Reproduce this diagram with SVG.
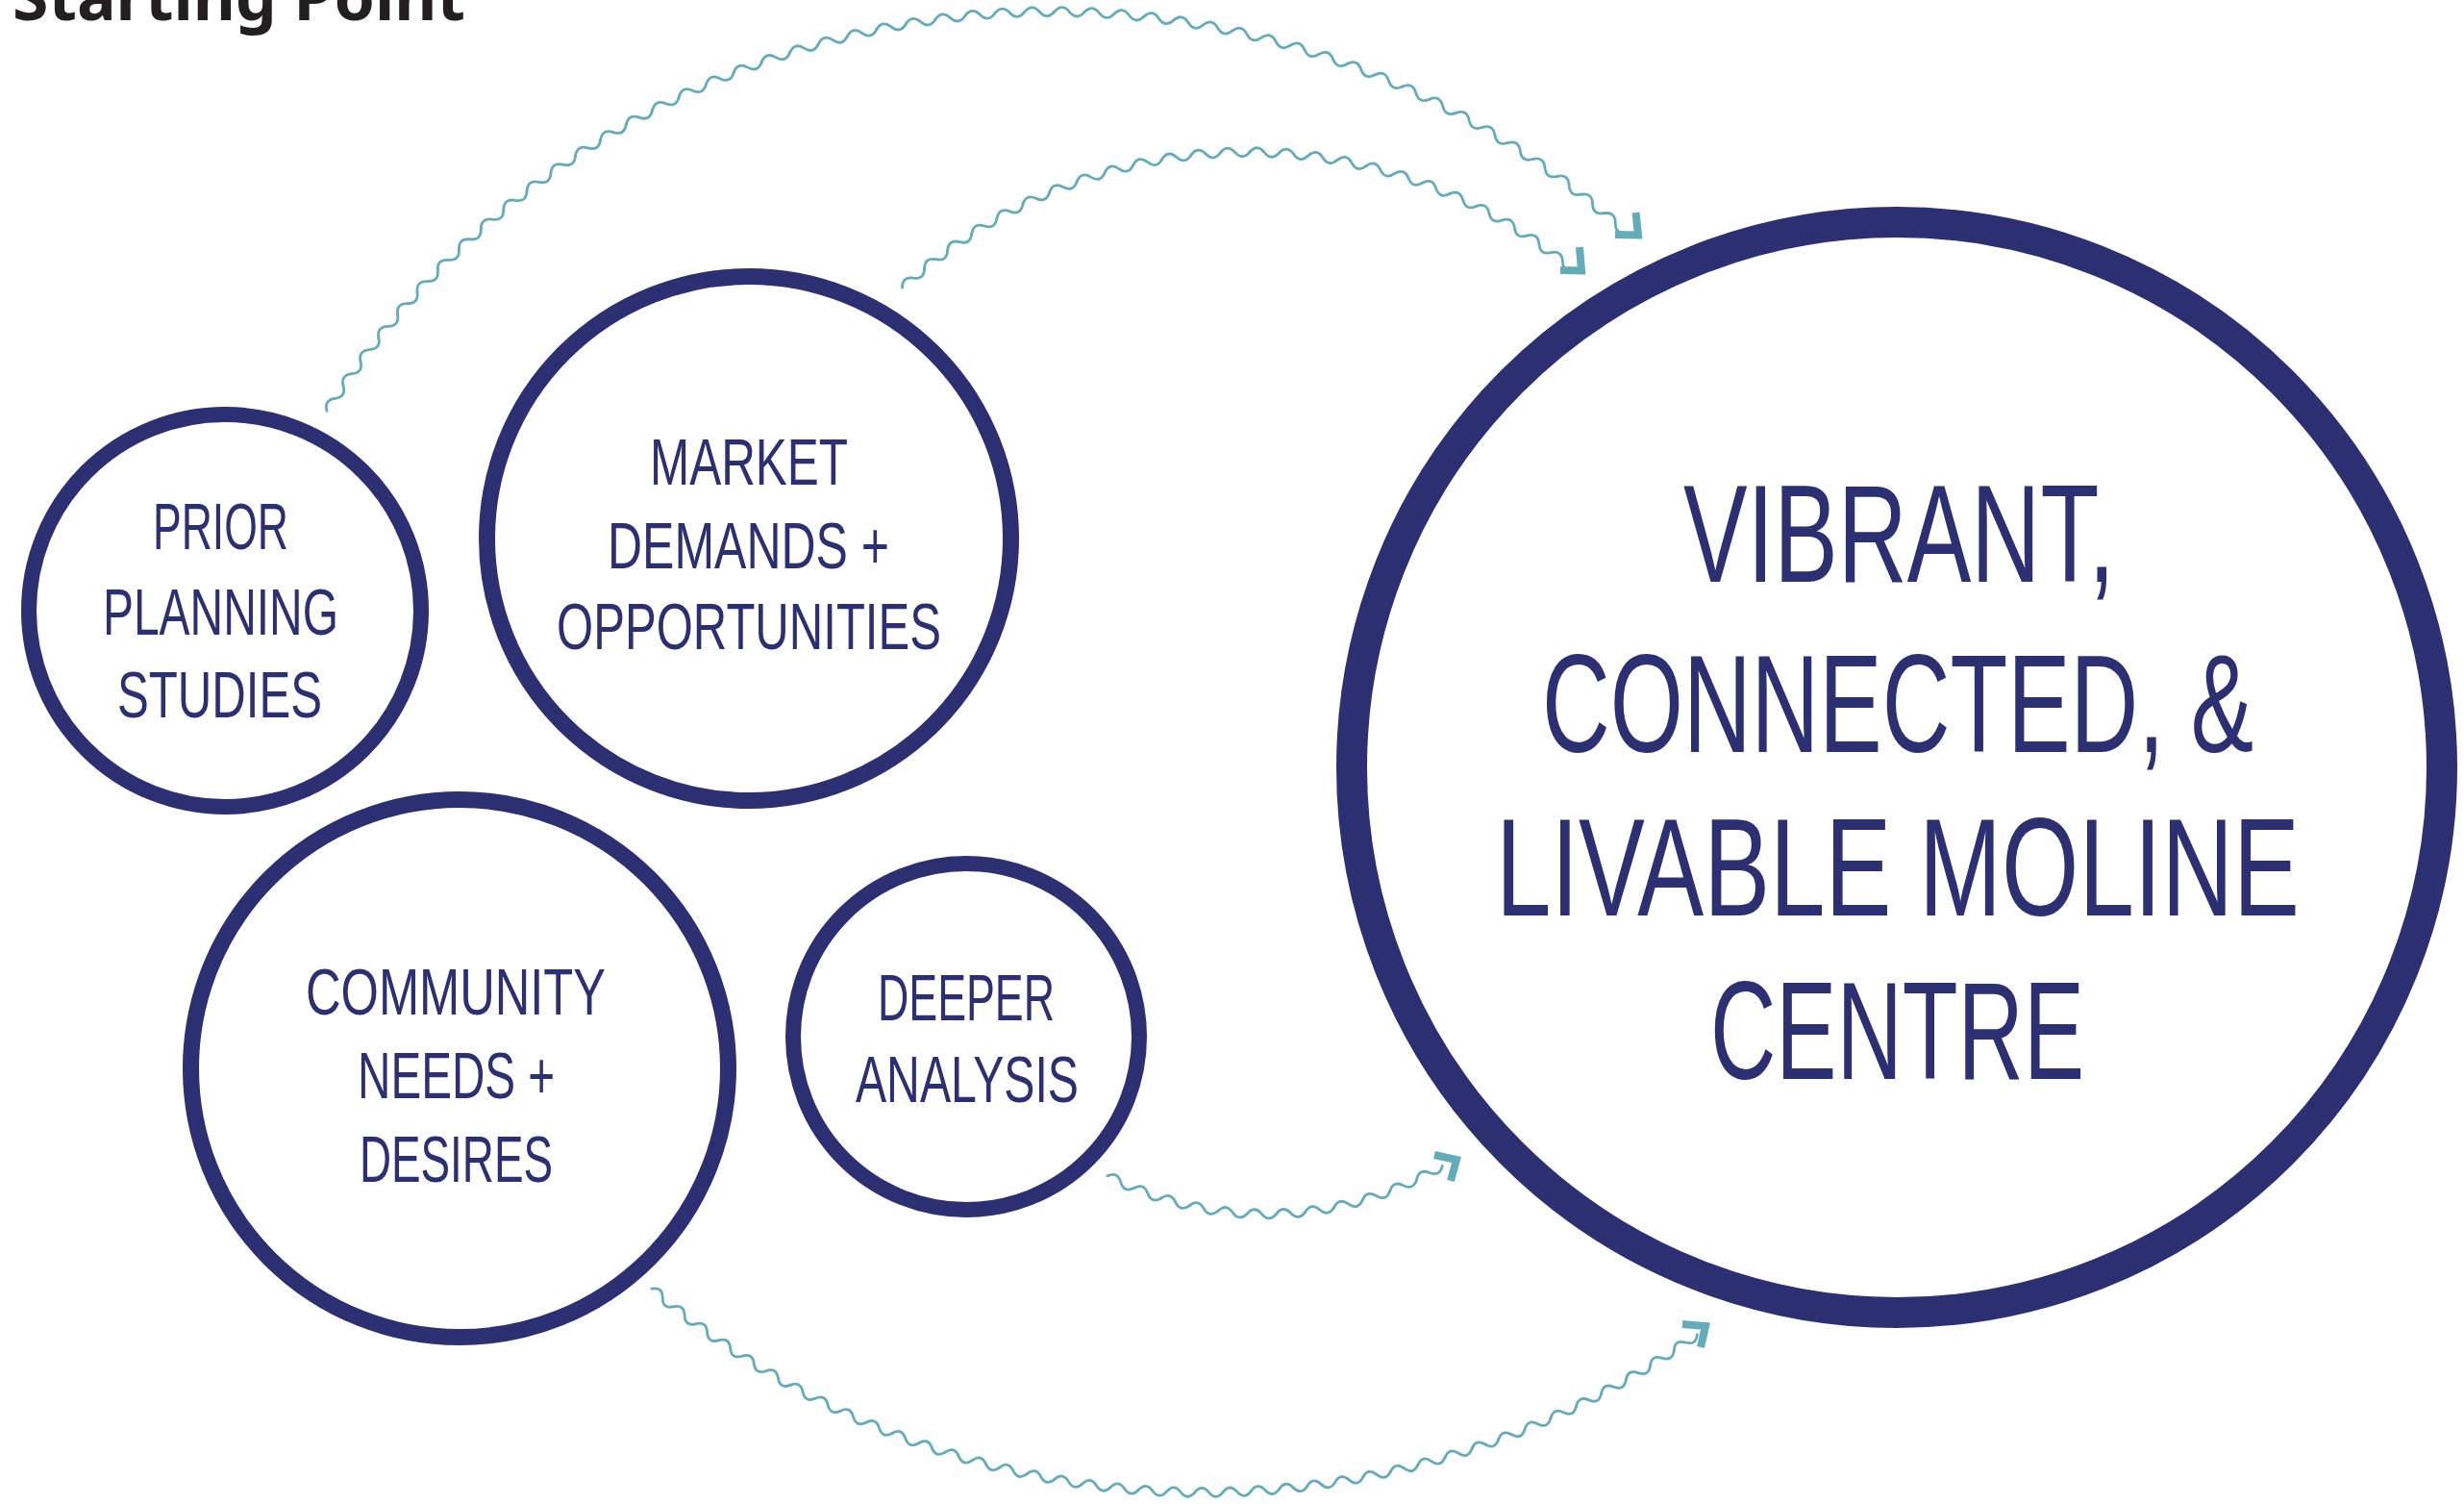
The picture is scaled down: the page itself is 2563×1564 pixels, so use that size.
<svg xmlns="http://www.w3.org/2000/svg" width="2563" height="1564" viewBox="0 0 2563 1564">
<style>
.ring{fill:#fff;stroke:#2c2f72}
.lbl{font-family:"Liberation Sans","Open Sans",sans-serif;fill:#2c2f72;font-size:68px}
.big{font-size:145px}
.wave{fill:none;stroke:#64acb9;stroke-width:2.8;stroke-linecap:round}
.head{fill:none;stroke:#64acb9;stroke-width:8;stroke-linejoin:miter;stroke-linecap:butt}
.title{font-family:"Noto Sans","Open Sans",sans-serif;font-weight:700;font-size:66px;fill:#231f20}
</style>
<defs>
  <path id="w1" class="wave" d="M0,0 q7.7675,-9 15.535,0 t15.535,0" transform="translate(1094,12) rotate(0.998)"/>
  <g id="g1">
    <use href="#w1"/>
    <use href="#w1" transform="rotate(1.996 1094 904)"/>
    <use href="#w1" transform="rotate(3.992 1094 904)"/>
    <use href="#w1" transform="rotate(5.988 1094 904)"/>
    <use href="#w1" transform="rotate(7.984 1094 904)"/>
  </g>
  <path id="w2" class="wave" d="M0,0 q7.6375,-9 15.275,0 t15.275,0" transform="translate(1298,158) rotate(1.658)"/>
  <g id="g2">
    <use href="#w2"/>
    <use href="#w2" transform="rotate(3.316 1298 686)"/>
    <use href="#w2" transform="rotate(6.632 1298 686)"/>
    <use href="#w2" transform="rotate(9.948 1298 686)"/>
    <use href="#w2" transform="rotate(13.264 1298 686)"/>
  </g>
  <path id="w3" class="wave" d="M0,0 q7.5775,-9 15.155,0 t15.155,0" transform="translate(1316.5,1262.7) rotate(-2.4125)"/>
  <g id="g3">
    <use href="#w3"/>
    <use href="#w3" transform="rotate(-4.825 1316.5 902.7)"/>
    <use href="#w3" transform="rotate(-9.65 1316.5 902.7)"/>
    <use href="#w3" transform="rotate(-14.475 1316.5 902.7)"/>
  </g>
  <path id="w4" class="wave" d="M0,0 q7.3275,-9 14.655,0 t14.655,0" transform="translate(1252,1552) rotate(-0.95)"/>
  <g id="g4">
    <use href="#w4"/>
    <use href="#w4" transform="rotate(-1.9 1252 668)"/>
    <use href="#w4" transform="rotate(-3.8 1252 668)"/>
    <use href="#w4" transform="rotate(-5.7 1252 668)"/>
    <use href="#w4" transform="rotate(-7.6 1252 668)"/>
  </g>
</defs>
<rect width="2563" height="1564" fill="#fff"/>

<text id="title" class="title" x="13" y="21" textLength="471" lengthAdjust="spacingAndGlyphs">Starting Point</text>

<g id="connectors">
  <g id="c-prior">
    <use href="#g1" transform="rotate(-57.7 1094 904)"/>
    <use href="#g1" transform="rotate(-47.72 1094 904)"/>
    <use href="#g1" transform="rotate(-37.74 1094 904)"/>
    <use href="#g1" transform="rotate(-27.76 1094 904)"/>
    <use href="#g1" transform="rotate(-17.78 1094 904)"/>
    <use href="#g1" transform="rotate(-7.8 1094 904)"/>
    <use href="#g1" transform="rotate(2.18 1094 904)"/>
    <use href="#g1" transform="rotate(12.16 1094 904)"/>
    <use href="#g1" transform="rotate(22.14 1094 904)"/>
    <use href="#g1" transform="rotate(32.12 1094 904)"/>
    <polyline class="head" points="1680,244 1704,244.5 1701.5,221"/>
  </g>
  <g id="c-market">
    <use href="#g2" transform="rotate(-42.9 1298 686)"/>
    <use href="#g2" transform="rotate(-26.32 1298 686)"/>
    <use href="#g2" transform="rotate(-9.74 1298 686)"/>
    <use href="#g2" transform="rotate(6.84 1298 686)"/>
    <use href="#g2" transform="rotate(23.42 1298 686)"/>
    <polyline class="head" points="1623,281 1645,281.5 1643,257"/>
  </g>
  <g id="c-deeper">
    <use href="#g3" transform="rotate(27.2 1316.5 902.7)"/>
    <use href="#g3" transform="rotate(7.9 1316.5 902.7)"/>
    <use href="#g3" transform="rotate(-11.4 1316.5 902.7)"/>
    <polyline class="head" points="1492,1201 1515,1206 1509,1228"/>
  </g>
  <g id="c-community">
    <use href="#g4" transform="rotate(40.5 1252 668)"/>
    <use href="#g4" transform="rotate(31 1252 668)"/>
    <use href="#g4" transform="rotate(21.5 1252 668)"/>
    <use href="#g4" transform="rotate(12 1252 668)"/>
    <use href="#g4" transform="rotate(2.5 1252 668)"/>
    <use href="#g4" transform="rotate(-7 1252 668)"/>
    <use href="#g4" transform="rotate(-16.5 1252 668)"/>
    <use href="#g4" transform="rotate(-26 1252 668)"/>
    <polyline class="head" points="1750,1377 1774,1379 1769,1401"/>
  </g>
</g>

<g id="node-prior">
  <circle class="ring" cx="234" cy="635" r="204" stroke-width="16"/>
  <text class="lbl" transform="translate(159 571) scale(0.7 1)" textLength="201.4" lengthAdjust="spacingAndGlyphs">PRIOR</text>
  <text class="lbl" transform="translate(107 660) scale(0.7 1)" textLength="350" lengthAdjust="spacingAndGlyphs">PLANNING</text>
  <text class="lbl" transform="translate(122 746) scale(0.7 1)" textLength="304.3" lengthAdjust="spacingAndGlyphs">STUDIES</text>
</g>

<g id="node-market">
  <circle class="ring" cx="779" cy="560" r="272.5" stroke-width="17"/>
  <text class="lbl" transform="translate(676 504) scale(0.7 1)" textLength="294.3" lengthAdjust="spacingAndGlyphs">MARKET</text>
  <text class="lbl" transform="translate(632 591) scale(0.7 1)" textLength="418.6" lengthAdjust="spacingAndGlyphs">DEMANDS +</text>
  <text class="lbl" transform="translate(579 675) scale(0.7 1)" textLength="571.4" lengthAdjust="spacingAndGlyphs">OPPORTUNITIES</text>
</g>

<g id="node-community">
  <circle class="ring" cx="478" cy="1111" r="279.5" stroke-width="17"/>
  <text class="lbl" transform="translate(318 1055) scale(0.7 1)" textLength="445.7" lengthAdjust="spacingAndGlyphs">COMMUNITY</text>
  <text class="lbl" transform="translate(372 1142) scale(0.7 1)" textLength="292.9" lengthAdjust="spacingAndGlyphs">NEEDS +</text>
  <text class="lbl" transform="translate(374 1229) scale(0.7 1)" textLength="287.1" lengthAdjust="spacingAndGlyphs">DESIRES</text>
</g>

<g id="node-deeper">
  <circle class="ring" cx="1005" cy="1078" r="180" stroke-width="16"/>
  <text class="lbl" transform="translate(913 1061) scale(0.7 1)" textLength="262.9" lengthAdjust="spacingAndGlyphs">DEEPER</text>
  <text class="lbl" transform="translate(890 1146) scale(0.7 1)" textLength="331.4" lengthAdjust="spacingAndGlyphs">ANALYSIS</text>
</g>

<g id="node-goal">
  <circle class="ring" cx="1973" cy="798" r="567" stroke-width="32"/>
  <text class="lbl big" transform="translate(1751 605) scale(0.68 1)" textLength="660.3" lengthAdjust="spacingAndGlyphs">VIBRANT,</text>
  <text class="lbl big" transform="translate(1604 782) scale(0.68 1)" textLength="1088.2" lengthAdjust="spacingAndGlyphs">CONNECTED, &amp;</text>
  <text class="lbl big" transform="translate(1556 952) scale(0.68 1)" textLength="1229.4" lengthAdjust="spacingAndGlyphs">LIVABLE MOLINE</text>
  <text class="lbl big" transform="translate(1779 1122) scale(0.68 1)" textLength="572.1" lengthAdjust="spacingAndGlyphs">CENTRE</text>
</g>
</svg>
